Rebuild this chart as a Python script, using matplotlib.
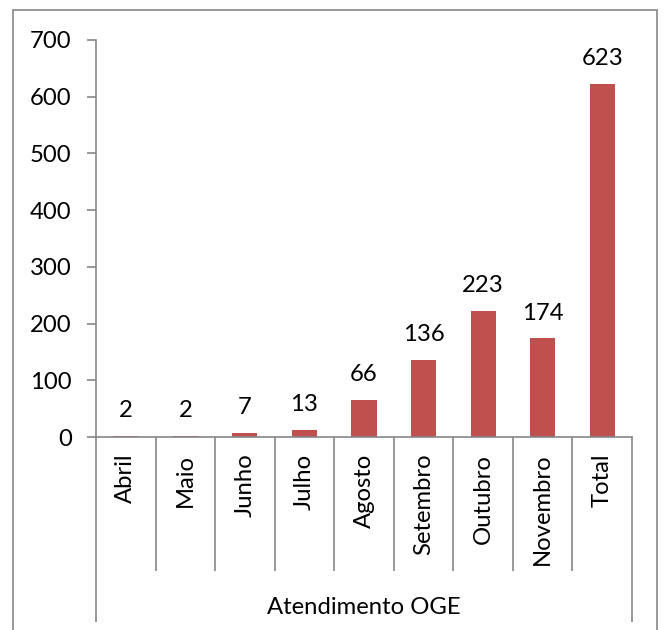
import matplotlib
matplotlib.use("Agg")
import matplotlib.pyplot as plt
import matplotlib.patches as mpatches

# data
months = ["Abril", "Maio", "Junho", "Julho", "Agosto",
          "Setembro", "Outubro", "Novembro", "Total"]
atendimentos = [2, 2, 7, 13, 66, 136, 223, 174, 623]
group_label = "Atendimento OGE"
yticks = [0, 100, 200, 300, 400, 500, 600, 700]

plt.rcParams["font.family"] = ["Lato", "DejaVu Sans"]
FS = 17.2
GRAY = "#868686"
BAR = "#C0504D"

W, H = 665, 630
fig = plt.figure(figsize=(W / 100, H / 100), dpi=100)

# outer chart border
fig.patches.append(mpatches.Rectangle(
    (13 / W, -0.05), (657 - 13) / W, 1 - 10 / H + 0.05,
    transform=fig.transFigure, fill=False, edgecolor=GRAY, lw=1.2))

ax = fig.add_axes([96 / W, 1 - 437 / H, (632 - 96) / W, (437 - 40) / H])

x = list(range(len(months)))
bars = ax.bar(x, atendimentos, width=0.42, color=BAR)
for xi, v in zip(x, atendimentos):
    ax.annotate(str(v), (xi, v), xytext=(0, 10.5), textcoords="offset points",
                ha="center", va="bottom", fontsize=FS)

ax.set_xlim(-0.5, len(months) - 0.5)
ax.set_ylim(0, 700)
ax.set_yticks(yticks)
ax.tick_params(axis="y", length=6.5, width=1.2, color=GRAY, pad=11, labelsize=FS)

ax.set_xticks(x)
ax.set_xticklabels(months, rotation=90, fontsize=FS, va="top")
ax.tick_params(axis="x", length=0, pad=12)

for s in ["top", "right"]:
    ax.spines[s].set_visible(False)
for s in ["left", "bottom"]:
    ax.spines[s].set_color(GRAY)
    ax.spines[s].set_linewidth(1.2)

# multi-level category axis separators
tr = ax.get_xaxis_transform()
inner = [i + 0.5 for i in range(len(months) - 1)]
ax.vlines(inner, -(571 - 437) / 397, 0, transform=tr, colors=GRAY,
          lw=1.2, clip_on=False)
ax.vlines([-0.5, len(months) - 0.5], -(622 - 437) / 397, 0, transform=tr,
          colors=GRAY, lw=1.2, clip_on=False)

ax.text((len(months) - 1) / 2, -(608 - 437) / 397, group_label,
        transform=tr, ha="center", va="center", fontsize=FS)

fig.savefig("out.png", dpi=100)
